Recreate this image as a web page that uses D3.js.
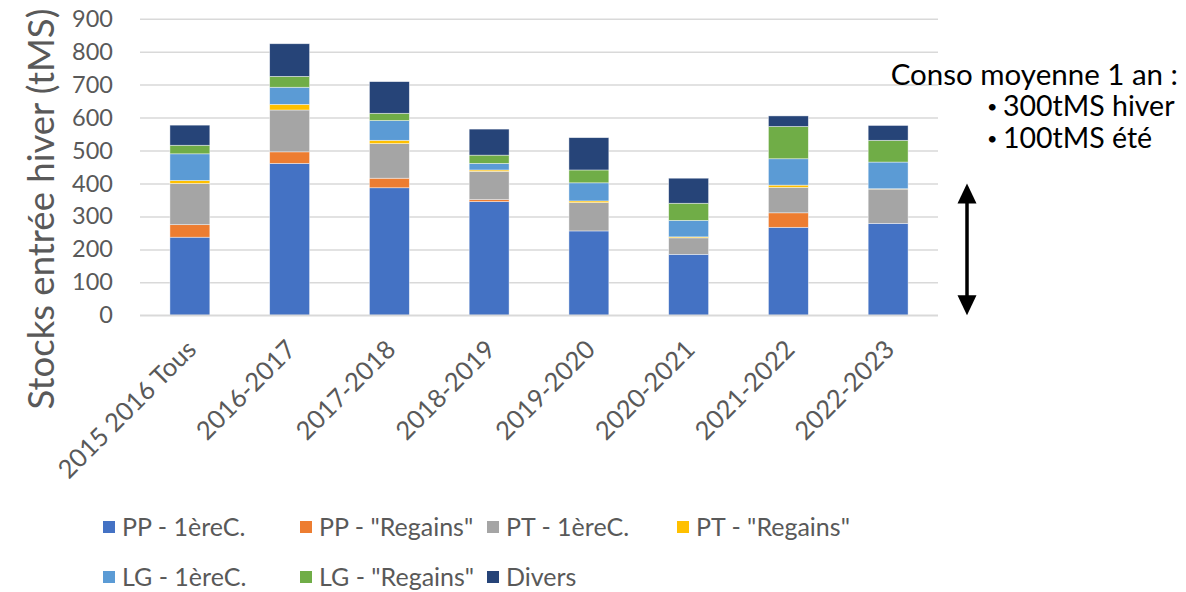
<!DOCTYPE html>
<html>
<head>
<meta charset="utf-8">
<script src="https://cdn.jsdelivr.net/npm/d3@7"></script>
<style>
  body { margin: 0; background: #fff; }
  text { font-family: Lato, "Noto Sans", sans-serif; }
</style>
</head>
<body>
<svg id="chart" width="1186" height="592"></svg>
<script>
// categories (saisons)
const seasons = ["2015 2016 Tous", "2016-2017", "2017-2018", "2018-2019",
                 "2019-2020", "2020-2021", "2021-2022", "2022-2023"];

// series, in stack order (bottom to top), values in tMS
const seriesNames = ["PP - 1èreC.", "PP - \"Regains\"", "PT - 1èreC.", "PT - \"Regains\"",
                     "LG - 1èreC.", "LG - \"Regains\"", "Divers"];
const ppFirst   = [237, 461, 387, 345, 256, 185, 267, 279];
const ppRegain  = [ 38,  35,  29,   6,   0,   0,  44,   0];
const ptFirst   = [125, 127, 105,  86,  86,  50,  77, 104];
const ptRegain  = [  9,  17,  10,   4,   5,   3,   7,   1];
const lgFirst   = [ 81,  52,  60,  20,  55,  50,  80,  81];
const lgRegain  = [ 26,  33,  22,  25,  39,  52,  98,  66];
const divers    = [ 61,  99,  96,  79,  98,  76,  32,  45];
const seriesValues = [ppFirst, ppRegain, ptFirst, ptRegain, lgFirst, lgRegain, divers];

const yTicks = [0, 100, 200, 300, 400, 500, 600, 700, 800, 900];

// annotation: average annual consumption
const consoTitle = "Conso moyenne 1 an :";
const consoLines = ["300tMS hiver", "100tMS été"];
const consoTotal = 400;

const colors = ["#4472C4", "#ED7D31", "#A5A5A5", "#FFC000", "#5B9BD5", "#70AD47", "#264478"];

const svg = d3.select("#chart");
const plotLeft = 140, plotRight = 938, plotTop = 18.7, plotBottom = 315.3;

const rows = seasons.map((s, i) => {
    const r = { season: s };
    seriesNames.forEach((n, k) => r[n] = seriesValues[k][i]);
    return r;
});
const stacked = d3.stack().keys(seriesNames)(rows);

const x = d3.scaleBand().domain(seasons).range([plotLeft, plotRight]).paddingInner(0.6).paddingOuter(0.3);
const y = d3.scaleLinear().domain([0, 900]).range([plotBottom, plotTop]);
const color = d3.scaleOrdinal().domain(seriesNames).range(colors);

// gridlines + y labels
const yAxis = svg.append("g")
    .attr("transform", `translate(${plotLeft},0)`)
    .call(d3.axisLeft(y).tickValues(yTicks).tickSize(-(plotRight - plotLeft)).tickPadding(27));
yAxis.select(".domain").remove();
yAxis.selectAll("line").attr("stroke", "#d9d9d9").attr("stroke-width", 1.5);
yAxis.selectAll("text").attr("fill", "#595959").attr("font-size", 23.5)
    .attr("font-family", "Lato, sans-serif");

// bars
svg.append("g")
    .selectAll("g")
    .data(stacked)
    .join("g")
    .attr("fill", d => color(d.key))
    .selectAll("rect")
    .data(d => d.filter(p => p[1] > p[0]))
    .join("rect")
    .attr("x", d => x(d.data.season))
    .attr("y", d => y(d[1]))
    .attr("height", d => y(d[0]) - y(d[1]))
    .attr("width", x.bandwidth())
    .attr("stroke", "#ffffff")
    .attr("stroke-opacity", 0.6)
    .attr("stroke-width", 0.7);

// x axis
const xAxis = svg.append("g")
    .attr("transform", `translate(0,${plotBottom})`)
    .call(d3.axisBottom(x).tickSize(0).tickPadding(0));
xAxis.select(".domain").attr("stroke", "#d9d9d9").attr("stroke-width", 1.5)
    .attr("d", `M${plotLeft},0H${plotRight}`);
xAxis.selectAll("text")
    .attr("fill", "#595959")
    .attr("font-size", 25.5)
    .attr("font-family", "Lato, sans-serif")
    .attr("text-anchor", "end")
    .attr("dy", "0.6em")
    .attr("transform", "translate(-3,25) rotate(-45)");

// y title
svg.append("text")
    .attr("transform", `translate(54,${(8 + 410) / 2}) rotate(-90)`)
    .attr("text-anchor", "middle")
    .attr("fill", "#595959")
    .attr("font-size", 36.5)
    .text("Stocks entrée hiver (tMS)");

// legend
const legendRows = [seriesNames.slice(0, 4), seriesNames.slice(4)];
const legendX = [103, 300, 487, 677];
const legendY = [527, 577];
legendRows.forEach((names, r) => {
    names.forEach((n, c) => {
        const g = svg.append("g").attr("transform", `translate(${legendX[c]},${legendY[r]})`);
        g.append("rect").attr("x", 0).attr("y", -6).attr("width", 12).attr("height", 12)
            .attr("fill", color(n));
        g.append("text").attr("x", 19).attr("y", 0).attr("dy", "0.35em")
            .attr("fill", "#595959").attr("font-size", 25).text(n);
    });
});

// annotation
svg.append("text").attr("x", 1178).attr("y", 85).attr("text-anchor", "end")
    .attr("font-size", 29.5).attr("fill", "#000").text(consoTitle);
consoLines.forEach((t, i) => {
    const ty = 116 + i * 32;
    svg.append("text").attr("x", 987).attr("y", ty - 3).attr("font-size", 18)
        .attr("fill", "#000").text("•");
    svg.append("text").attr("x", 1003).attr("y", ty).attr("font-size", 28.5)
        .attr("fill", "#000").text(t);
});

// double arrow 0 -> 400
const ax = 967;
const y0 = y(0), y1 = y(consoTotal);
svg.append("line").attr("x1", ax).attr("x2", ax).attr("y1", y1 + 15).attr("y2", y0 - 15)
    .attr("stroke", "#000").attr("stroke-width", 3.5);
svg.append("path").attr("d", `M${ax},${y1} L${ax - 9.5},${y1 + 20} L${ax + 9.5},${y1 + 20} Z`)
    .attr("fill", "#000");
svg.append("path").attr("d", `M${ax},${y0} L${ax - 9.5},${y0 - 20} L${ax + 9.5},${y0 - 20} Z`)
    .attr("fill", "#000");
</script>
</body>
</html>
